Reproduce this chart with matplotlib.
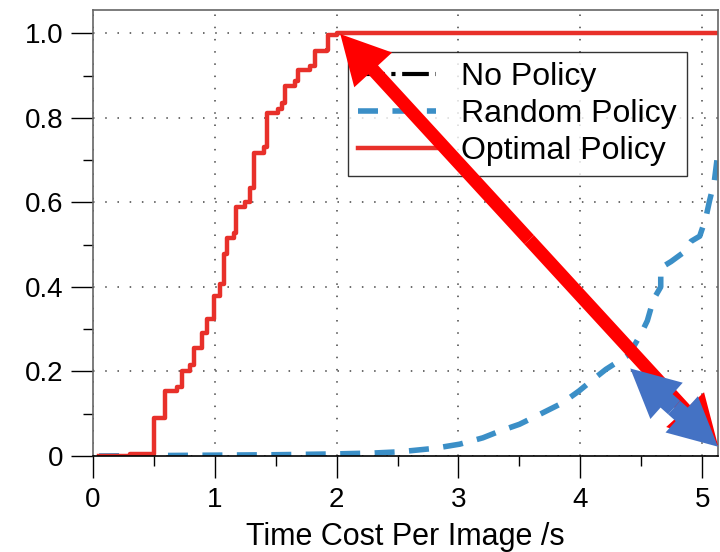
import numpy as np
from matplotlib import pyplot as plt
from matplotlib.patches import FancyArrowPatch, ArrowStyle
from matplotlib.ticker import MultipleLocator

plt.rcParams['font.family'] = ['Liberation Sans', 'DejaVu Sans']

# Optimal policy CDF (step, where='post')
opt_x = [0.05, 0.30, 0.50, 0.595, 0.69, 0.73, 0.80, 0.83, 0.896, 0.937, 0.99, 1.046,
         1.073, 1.10, 1.155, 1.177, 1.25, 1.29, 1.324, 1.40, 1.428, 1.52, 1.55, 1.578,
         1.66, 1.68, 1.78, 1.824, 1.92, 1.93, 2.0, 5.5]
opt_y = [0.0, 0.004, 0.091, 0.154, 0.163, 0.20, 0.216, 0.256, 0.291, 0.323, 0.378, 0.406,
         0.477, 0.516, 0.528, 0.588, 0.60, 0.634, 0.717, 0.73, 0.812, 0.82, 0.835, 0.875,
         0.886, 0.914, 0.922, 0.957, 0.96, 0.997, 1.0, 1.0]

# Random policy CDF
rnd_x = [0.05, 0.5, 1.0, 1.5, 2.0, 2.3, 2.52, 2.8, 3.01, 3.2, 3.34, 3.5, 3.67, 3.85, 3.99,
         4.1, 4.21, 4.40, 4.50, 4.55, 4.60, 4.66, 4.66, 4.745, 4.84, 4.91, 4.98, 5.03,
         5.06, 5.10, 5.13, 5.2]
rnd_y = [0.0, 0.001, 0.002, 0.003, 0.005, 0.007, 0.010, 0.018, 0.028, 0.043, 0.059, 0.075,
         0.099, 0.125, 0.154, 0.18, 0.205, 0.24, 0.29, 0.32, 0.37, 0.40, 0.445, 0.46, 0.48,
         0.508, 0.52, 0.563, 0.603, 0.65, 0.72, 0.76]

# No policy CDF (lies beyond the visible range)
nop_x = [5.6, 6.0, 6.5, 7.0]
nop_y = [0.0, 0.2, 0.6, 1.0]

labels = ['No Policy', 'Random Policy', 'Optimal Policy']

# annotation arrows (data coords)
red_arrow = [(2.03, 0.998), (5.13, 0.025)]
blue_arrow = [(4.41, 0.207), (5.13, 0.022)]

fig = plt.figure(figsize=(7.2, 5.52), dpi=100)
ax = fig.add_axes([93/720, 1-456/552, 625/720, 446/552])

ax.plot(nop_x, nop_y, color='black', ls='-.', lw=3, label=labels[0])
ax.plot(rnd_x, rnd_y, color='#3b8fc7', lw=4, dashes=(3.6, 2.6), label=labels[1])
ax.step(opt_x, opt_y, where='post', color='#e8302a', lw=3.2, label=labels[2])

ax.set_xlim(0, 5.13)
ax.set_ylim(0, 1.055)
ax.xaxis.set_major_locator(MultipleLocator(1))
ax.xaxis.set_minor_locator(MultipleLocator(0.5))
ax.yaxis.set_minor_locator(MultipleLocator(0.1))
ax.set_yticks([0, 0.2, 0.4, 0.6, 0.8, 1.0])
ax.set_yticklabels(['0', '0.2', '0.4', '0.6', '0.8', '1.0'])
ax.tick_params(which='major', direction='out', length=15.5, width=1, labelsize=20, pad=6)
ax.tick_params(axis='x', which='major', pad=7)
ax.tick_params(which='minor', direction='out', length=7.5, width=1)
ax.grid(True, which='major', ls=(0, (1, 7)), color='#444444', lw=1.1)
for s in ax.spines.values():
    s.set_color('#666666')
    s.set_linewidth(1.2)
ax.spines['bottom'].set_color('black')
ax.set_xlabel('Time Cost Per Image /s', fontsize=22, labelpad=6)

leg = ax.legend(loc='upper left', bbox_to_anchor=(0.408, 0.905), fontsize=23,
                frameon=True, fancybox=False, edgecolor='black', handlelength=2.45,
                borderpad=0.3, labelspacing=0.22, handletextpad=0.8, borderaxespad=0)
leg.get_frame().set_linewidth(1)


def double_arrow(p0, p1, color, tail, head_w, head_l, z):
    mid = ((p0[0]+p1[0])/2, (p0[1]+p1[1])/2)
    st = ArrowStyle('simple', head_length=head_l, head_width=head_w, tail_width=tail)
    for end in (p0, p1):
        a = FancyArrowPatch(mid, end, arrowstyle=st, mutation_scale=1, color=color,
                            lw=0, shrinkA=0, shrinkB=0, clip_on=False, zorder=z)
        ax.add_patch(a)


double_arrow(red_arrow[0], red_arrow[1], '#ff0000', 9.5, 37, 35, 6)
double_arrow(blue_arrow[0], blue_arrow[1], '#4472c4', 13, 35, 35, 7)

fig.savefig('out.png', dpi=100)
